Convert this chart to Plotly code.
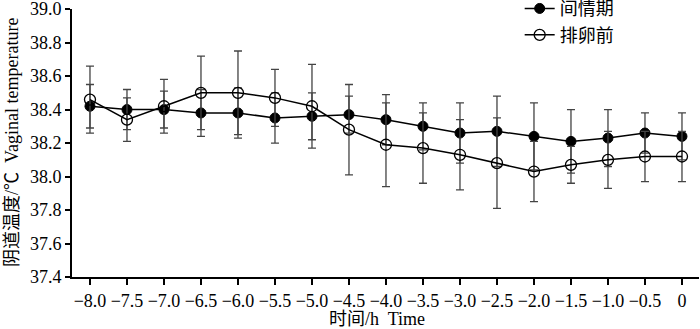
import plotly.graph_objects as go

time_h = [-8.0, -7.5, -7.0, -6.5, -6.0, -5.5, -5.0, -4.5, -4.0, -3.5, -3.0, -2.5, -2.0, -1.5, -1.0, -0.5, 0.0]
tick_labels = ["−8.0", "−7.5", "−7.0", "−6.5", "−6.0", "−5.5", "−5.0", "−4.5", "−4.0",
               "−3.5", "−3.0", "−2.5", "−2.0", "−1.5", "−1.0", "−0.5", "0"]
y_ticks = [37.4, 37.6, 37.8, 38.0, 38.2, 38.4, 38.6, 38.8, 39.0]
y_tick_labels = ["37.4", "37.6", "37.8", "38.0", "38.2", "38.4", "38.6", "38.8", "39.0"]

interestrus = [38.42, 38.40, 38.40, 38.38, 38.38, 38.35, 38.36, 38.37, 38.34, 38.30, 38.26, 38.27, 38.24, 38.21, 38.23, 38.26, 38.24]
interestrus_err = [0.13, 0.12, 0.11, 0.14, 0.15, 0.15, 0.14, 0.11, 0.15, 0.14, 0.18, 0.21, 0.20, 0.19, 0.17, 0.12, 0.14]

preovulation = [38.46, 38.34, 38.42, 38.50, 38.50, 38.47, 38.42, 38.28, 38.19, 38.17, 38.13, 38.08, 38.03, 38.07, 38.10, 38.12, 38.12]
preovulation_err = [0.20, 0.13, 0.16, 0.22, 0.25, 0.17, 0.25, 0.27, 0.25, 0.21, 0.21, 0.27, 0.18, 0.11, 0.17, 0.15, 0.15]

SERIF = "Liberation Serif, Times New Roman, serif"
MIXED = "Liberation Serif, Noto Sans CJK SC, serif"

fig = go.Figure()
fig.add_trace(go.Scatter(
    x=time_h, y=interestrus, name="间情期", mode="lines+markers",
    line=dict(color="black", width=1.5),
    marker=dict(symbol="circle", size=10, color="black", line=dict(color="black", width=1)),
    error_y=dict(type="data", array=interestrus_err, visible=True, color="#444444", thickness=1.3, width=4),
))
fig.add_trace(go.Scatter(
    x=time_h, y=preovulation, name="排卵前", mode="lines+markers",
    line=dict(color="black", width=1.5),
    marker=dict(symbol="circle-open", size=11, color="black", line=dict(color="black", width=1.3)),
    error_y=dict(type="data", array=preovulation_err, visible=True, color="#444444", thickness=1.3, width=4),
))

fig.update_layout(
    width=700, height=329,
    margin=dict(l=72, r=1, t=9, b=52, autoexpand=False),
    paper_bgcolor="white", plot_bgcolor="white",
    font=dict(family=SERIF, size=18, color="black"),
    showlegend=True,
    legend=dict(x=0.714, y=1.07, xanchor="left", yanchor="top",
                bgcolor="rgba(0,0,0,0)", font=dict(size=18, family=MIXED),
                tracegroupgap=0, itemwidth=30),
    xaxis=dict(range=[-8.243, 0.23], tickmode="array", tickvals=time_h, ticktext=tick_labels,
               showline=True, linecolor="black", linewidth=2, ticks="outside", ticklen=6,
               tickwidth=2, tickcolor="black", showgrid=False, zeroline=False, automargin=False,
               tickfont=dict(family=SERIF, size=18), ticklabeloverflow="allow"),
    yaxis=dict(range=[37.4, 39.001], tickmode="array", tickvals=y_ticks, ticktext=y_tick_labels,
               showline=True, linecolor="black", linewidth=2, ticks="outside", ticklen=5,
               tickwidth=2, tickcolor="black", showgrid=False, zeroline=False, automargin=False,
               tickfont=dict(family=SERIF, size=18), ticklabeloverflow="allow"),
    annotations=[
        dict(text="时间/h  Time", xref="paper", yref="paper", x=0.487, y=0, yshift=-42,
             xanchor="center", yanchor="middle", showarrow=False,
             font=dict(family=MIXED, size=18)),
        dict(text="阴道温度/℃  Vaginal temperature", xref="paper", yref="paper", x=0, y=0.5,
             xshift=-60, xanchor="center", yanchor="middle", textangle=-90, showarrow=False,
             font=dict(family=MIXED, size=18)),
    ],
)

fig.write_html("out.html", config={"displayModeBar": False},
               post_script="document.body.style.margin='0';document.body.style.padding='0';")
